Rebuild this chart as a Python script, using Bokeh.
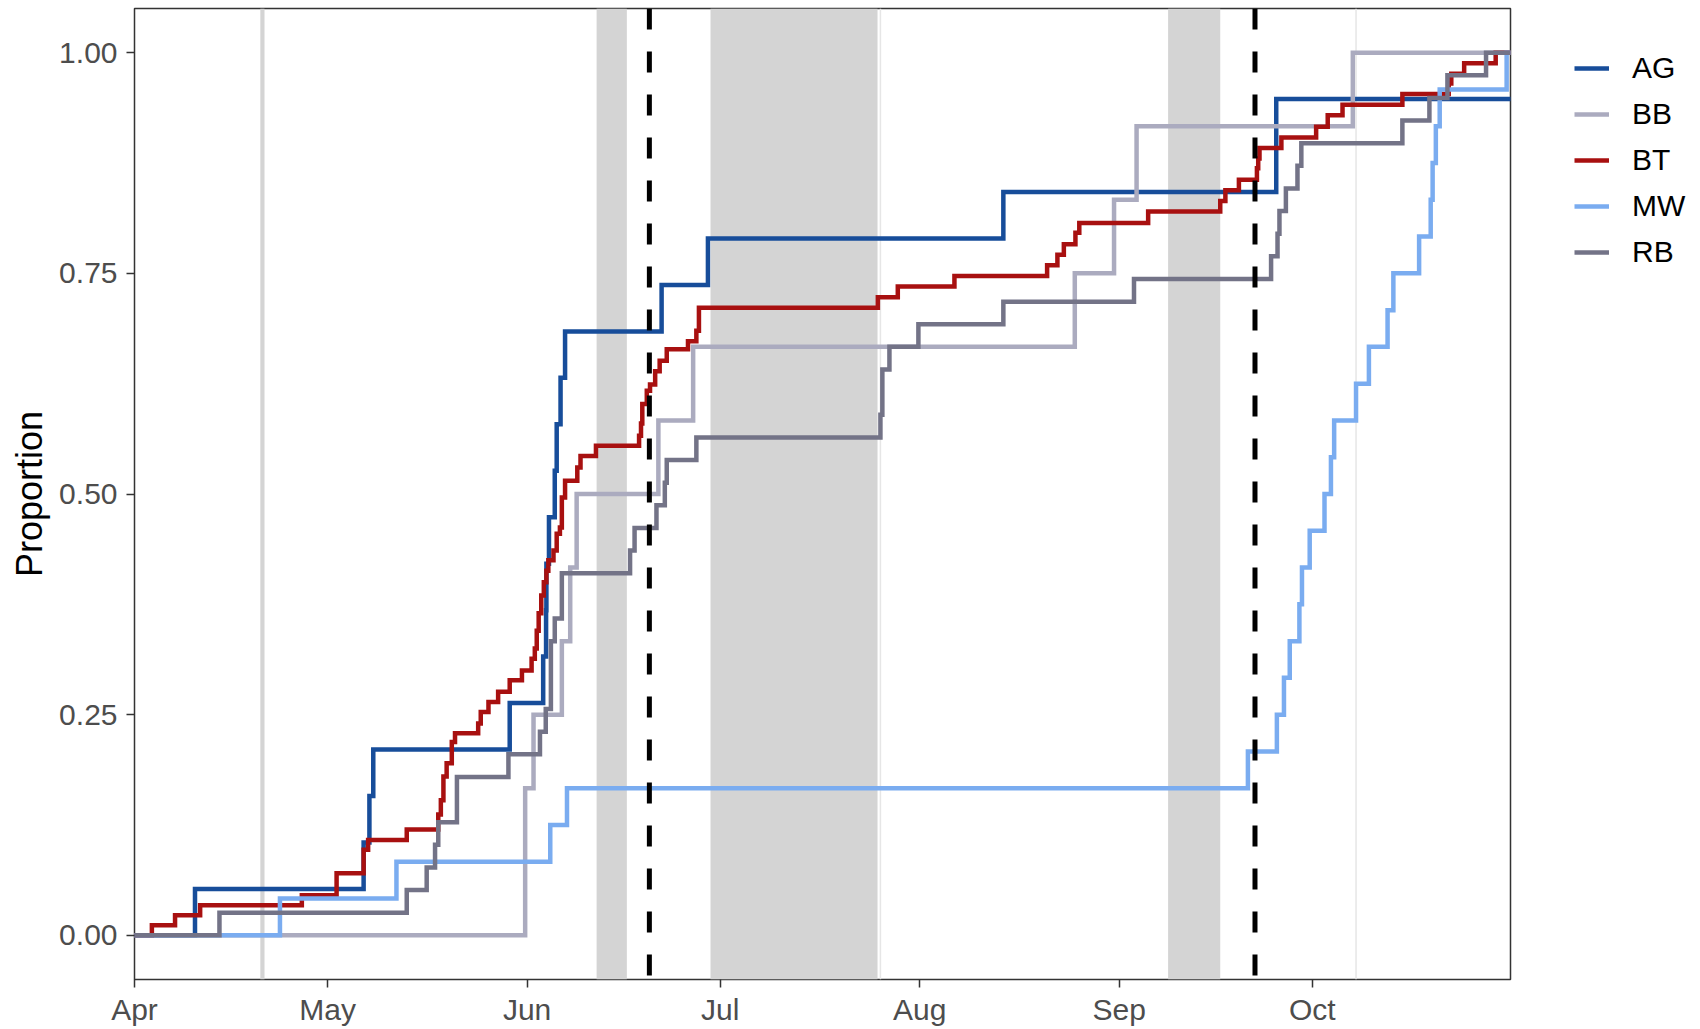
import pandas as pd
from bokeh.plotting import figure
from bokeh.layouts import row
from bokeh.models import (Range1d, FixedTicker, DatetimeTickFormatter, PrintfTickFormatter,
                          Legend, LegendItem, Span, BoxAnnotation)
from bokeh.embed import file_html
from bokeh.resources import INLINE

# ---------------- data ----------------
SEASON_START = "2021-04-01"          # x axis origin (1 April)
X_END_DAY = 213.8                    # right edge of the panel, days after 1 April

# event times, in days after 1 April, and the cumulative proportion after each event
AG_days = [9.4, 35.6, 36.5, 37.1, 58.3, 63.5, 63.95, 64.0, 64.4, 65.3, 65.6, 66.2, 66.9,
           81.9, 89.1, 135.0, 177.4, 177.4]
AG_prop = [0.0526, 0.1053, 0.1579, 0.2105, 0.2632, 0.3158, 0.3684, 0.4211, 0.4737, 0.5263,
           0.5789, 0.6316, 0.6842, 0.7368, 0.7895, 0.8421, 0.8947, 0.9474]

BB_days = [60.7, 60.7, 62.0, 66.4, 67.7, 68.7, 81.4, 86.8, 146.1, 152.2, 155.7, 189.3]
BB_prop = [0.0833, 0.1667, 0.25, 0.3333, 0.4167, 0.5, 0.5833, 0.6667, 0.75, 0.8333, 0.9167, 1.0]

BT_days = [2.7, 6.3, 10.2, 26.0, 31.4, 35.6, 36.3, 42.3, 47.2, 47.6, 48.0, 48.5, 49.3, 49.8,
           53.4, 53.8, 55.0, 56.5, 58.3, 60.2, 61.7, 62.2, 62.5, 62.8, 63.2, 63.6, 64.0, 64.3,
           65.1, 65.6, 66.1, 66.4, 66.9, 68.8, 69.3, 71.7, 78.4, 78.7, 78.9, 79.6, 80.1, 80.9,
           81.6, 82.7, 86.0, 87.3, 87.7, 115.5, 118.6, 127.4, 141.8, 143.4, 144.4, 146.2, 146.8,
           157.5, 168.7, 169.5, 171.6, 174.4, 174.6, 174.8, 178.2, 183.6, 185.4, 187.7, 197.0,
           204.2, 204.6, 206.6, 211.5]
BT_prop = [0.0114, 0.0227, 0.0341, 0.0455, 0.0705, 0.097, 0.108, 0.120, 0.137, 0.153, 0.180,
           0.195, 0.219, 0.229, 0.240, 0.253, 0.2645, 0.276, 0.289, 0.300, 0.3135, 0.325, 0.345,
           0.365, 0.385, 0.400, 0.413, 0.425, 0.436, 0.455, 0.462, 0.496, 0.515, 0.530, 0.543,
           0.5546, 0.566, 0.580, 0.602, 0.617, 0.624, 0.639, 0.651, 0.664, 0.673, 0.685, 0.711,
           0.723, 0.735, 0.747, 0.759, 0.771, 0.783, 0.796, 0.807, 0.820, 0.832, 0.844, 0.856,
           0.869, 0.880, 0.892, 0.904, 0.916, 0.929, 0.941, 0.953, 0.965, 0.976, 0.988, 1.0]

MW_days = [22.6, 40.7, 64.6, 67.2, 173.0, 177.5, 178.6, 179.5, 181.0, 181.4, 182.6, 184.9,
           185.9, 186.4, 189.8, 191.8, 194.7, 195.6, 199.6, 201.4, 201.7, 202.2, 202.8, 213.2]
MW_prop = [0.0417, 0.0833, 0.125, 0.1667, 0.2083, 0.25, 0.2917, 0.3333, 0.375, 0.4167, 0.4583,
           0.5, 0.5417, 0.5833, 0.625, 0.6667, 0.7083, 0.75, 0.7917, 0.8333, 0.875, 0.9167,
           0.9583, 1.0]

RB_days = [13.2, 42.3, 45.4, 46.7, 47.2, 50.1, 50.1, 58.1, 63.0, 63.9, 64.7, 64.7, 64.7, 65.3,
           66.4, 66.4, 77.0, 77.7, 81.1, 82.4, 82.7, 87.3, 115.9, 116.2, 116.2, 117.3, 121.8,
           135.0, 155.3, 176.6, 177.6, 177.9, 178.9, 180.7, 181.3, 197.0, 201.2, 204.0, 210.0]
RB_prop = [0.0256, 0.0513, 0.0769, 0.1026, 0.1282, 0.1538, 0.1795, 0.2051, 0.2308, 0.2564,
           0.2821, 0.3077, 0.3333, 0.3590, 0.3846, 0.4103, 0.4359, 0.4615, 0.4872, 0.5128,
           0.5385, 0.5641, 0.5897, 0.6154, 0.6410, 0.6667, 0.6923, 0.7179, 0.7436, 0.7692,
           0.7949, 0.8205, 0.8462, 0.8718, 0.8974, 0.9231, 0.9487, 0.9744, 1.0]

series_names = ["AG", "BB", "BT", "MW", "RB"]
series_colors = ["#174D9A", "#ABABBF", "#A81010", "#7AACF0", "#737387"]

# shaded periods (days after 1 April)
band_start = [19.55, 71.8, 89.5, 160.6]
band_end = [20.2, 76.5, 115.45, 168.7]
faint_line_days = [115.9, 189.8]
dashed_line_days = [80.0, 174.1]

month_ticks = ["2021-04-01", "2021-05-01", "2021-06-01", "2021-07-01",
               "2021-08-01", "2021-09-01", "2021-10-01"]
y_ticks = [0.0, 0.25, 0.5, 0.75, 1.0]

# ---------------- helpers ----------------
BASE_MS = pd.Timestamp(SEASON_START).value / 1e6
DAY_MS = 86400000.0


def ms(day):
    return BASE_MS + day * DAY_MS


FONT = "Liberation Sans"
MAIN_W, LEG_W, H = 1512, 188, 1029

p = figure(width=MAIN_W, height=H, x_axis_type="datetime",
           output_backend="svg", toolbar_location=None,
           x_range=Range1d(ms(0), ms(X_END_DAY)), y_range=Range1d(-0.05, 1.05),
           min_border_left=134, min_border_right=2, min_border_top=8, min_border_bottom=50)

p.background_fill_color = "white"
p.border_fill_color = "white"
p.outline_line_color = "#333333"
p.outline_line_width = 1.5
p.xgrid.visible = False
p.ygrid.visible = False

# shaded bands and faint lines (below data)
for s, e in zip(band_start, band_end):
    p.add_layout(BoxAnnotation(left=ms(s), right=ms(e), fill_color="#D4D4D4", fill_alpha=1.0,
                               line_alpha=0, level="underlay"))
for d in faint_line_days:
    p.add_layout(Span(location=ms(d), dimension="height", line_color="#E6E6E6",
                      line_width=1.5, level="underlay"))

# ECDF step lines
all_days = [AG_days, BB_days, BT_days, MW_days, RB_days]
all_prop = [AG_prop, BB_prop, BT_prop, MW_prop, RB_prop]
step_xy = []
for name, col, days, prop in zip(series_names, series_colors, all_days, all_prop):
    xs = [ms(-5)] + [ms(d) for d in days] + [ms(X_END_DAY + 10)]
    ys = [0.0] + list(prop) + [prop[-1]]
    step_xy.append((xs, ys))
    p.step(xs, ys, mode="after", line_color=col, line_width=4.5,
           line_join="miter", line_cap="butt")

# dashed reference lines (on top)
for d in dashed_line_days:
    p.add_layout(Span(location=ms(d), dimension="height", line_color="black",
                      line_width=5, line_dash="21 22"))

# axes
p.xaxis.ticker = FixedTicker(ticks=[pd.Timestamp(t).value / 1e6 for t in month_ticks])
p.xaxis.formatter = DatetimeTickFormatter(months="%b", days="%b", hours="%b", years="%b")
p.yaxis.ticker = FixedTicker(ticks=y_ticks)
p.yaxis.formatter = PrintfTickFormatter(format="%.2f")
for ax in (p.xaxis[0], p.yaxis[0]):
    ax.axis_line_color = None
    ax.major_tick_line_color = "#333333"
    ax.major_tick_line_width = 1.5
    ax.major_tick_in = 0
    ax.major_tick_out = 8
    ax.minor_tick_line_color = None
    ax.major_label_text_font = FONT
    ax.major_label_text_font_size = "30px"
    ax.major_label_text_color = "#4D4D4D"
p.xaxis.major_label_standoff = 5
p.yaxis.major_label_standoff = 9
p.yaxis.axis_label = "Proportion"
p.yaxis.axis_label_text_font = FONT
p.yaxis.axis_label_text_font_size = "36px"
p.yaxis.axis_label_text_font_style = "normal"
p.yaxis.axis_label_text_color = "black"
p.yaxis.axis_label_standoff = 6

# ---------------- legend strip to the right of the panel ----------------
# (same series drawn again in a strip whose ranges exclude them, so only the legend shows)
q = figure(width=LEG_W, height=H, output_backend="svg", toolbar_location=None,
           x_axis_location=None, y_axis_location=None,
           x_range=Range1d(0, 1), y_range=Range1d(0, 1),
           min_border_left=0, min_border_right=0, min_border_top=0, min_border_bottom=0)
q.outline_line_color = None
q.xgrid.visible = False
q.ygrid.visible = False
q.background_fill_color = "white"
q.border_fill_color = "white"

items = []
for name, col, (xs, ys) in zip(series_names, series_colors, step_xy):
    key = q.step(xs, ys, mode="after", line_color=col, line_width=4.5, line_cap="butt")
    items.append(LegendItem(label=name, renderers=[key]))

legend = Legend(items=items, location=(62, 704), orientation="vertical",
                glyph_width=35, glyph_height=46, label_height=46, spacing=0,
                padding=0, margin=0, label_standoff=23,
                label_text_font=FONT, label_text_font_size="30px", label_text_color="black",
                border_line_alpha=0, background_fill_alpha=0)
q.add_layout(legend, "center")

layout = row(p, q)
open("out.html", "w").write(file_html(layout, INLINE))
